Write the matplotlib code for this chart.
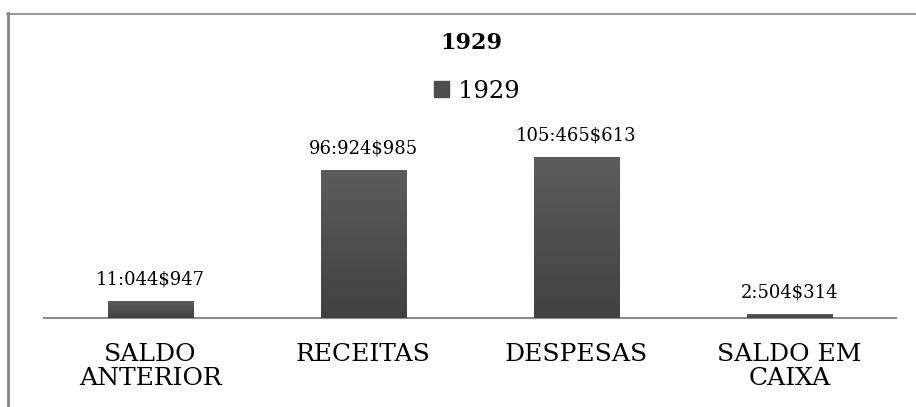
import matplotlib
matplotlib.use("Agg")
import matplotlib.pyplot as plt
import numpy as np
from matplotlib.lines import Line2D
from matplotlib.colors import LinearSegmentedColormap

categories = ["SALDO\nANTERIOR", "RECEITAS", "DESPESAS", "SALDO EM\nCAIXA"]
values = [11044.947, 96924.985, 105465.613, 2504.314]
value_labels = ["11:044$947", "96:924$985", "105:465$613", "2:504$314"]
series_name = "1929"
title = "1929"

SERIF = ["DejaVu Serif"]

fig = plt.figure(figsize=(9.16, 4.07), dpi=100)
fig.patch.set_facecolor("white")

ax = fig.add_axes([44 / 916, 89 / 407, 852 / 916, 183 / 407])
x = np.arange(len(categories))
bars = ax.bar(x, values, width=0.4, color="#4d4d4d", zorder=2, label=series_name)

# vertical gradient inside each bar
grad = np.linspace(0, 1, 256).reshape(-1, 1)
cmap = LinearSegmentedColormap.from_list("g", ["#414141", "#5c5c5c"])
for b in bars:
    bx, by = b.get_x(), b.get_y()
    w, h = b.get_width(), b.get_height()
    im = ax.imshow(grad, cmap=cmap, extent=(bx, bx + w, by, by + h),
                   origin="lower", aspect="auto", zorder=3)
    im.set_clip_path(b)

ax.set_xlim(-0.5, len(categories) - 0.5)
ax.set_ylim(0, 120000)
for s in ["top", "right", "left"]:
    ax.spines[s].set_visible(False)
ax.spines["bottom"].set_color("#8c8c8c")
ax.spines["bottom"].set_linewidth(1.5)
ax.set_yticks([])
ax.set_xticks(x)
ax.set_xticklabels(categories, fontfamily=SERIF, fontsize=18, linespacing=1.08)
ax.tick_params(axis="x", length=0, pad=18)
ax.patch.set_alpha(0)

for b, lab in zip(bars, value_labels):
    ax.annotate(lab, (b.get_x() + b.get_width() / 2, b.get_height()),
                xytext=(0, 9), textcoords="offset points",
                ha="center", va="bottom", fontfamily=SERIF, fontsize=13)

fig.text(471 / 916, 1 - 43 / 407, title, ha="center", va="center",
         fontfamily=SERIF, fontsize=16, fontweight="bold")

handles = [plt.Rectangle((0, 0), 1, 1, color="#4d4d4d")]
leg = fig.legend(handles, [series_name], loc="center", bbox_to_anchor=(477 / 916, 1 - 91 / 407),
                 frameon=False, prop={"family": SERIF, "size": 17.5},
                 handlelength=0.6, handleheight=0.6, handletextpad=0.4)

# chart frame (left and top edges visible)
fig.add_artist(Line2D([7.5 / 916, 7.5 / 916], [0, 1 - 13 / 407], transform=fig.transFigure,
                      color="#868686", linewidth=2))
fig.add_artist(Line2D([7 / 916, 1], [1 - 13.5 / 407, 1 - 13.5 / 407], transform=fig.transFigure,
                      color="#868686", linewidth=1.2))

fig.savefig("out.png", dpi=100, facecolor="white")
